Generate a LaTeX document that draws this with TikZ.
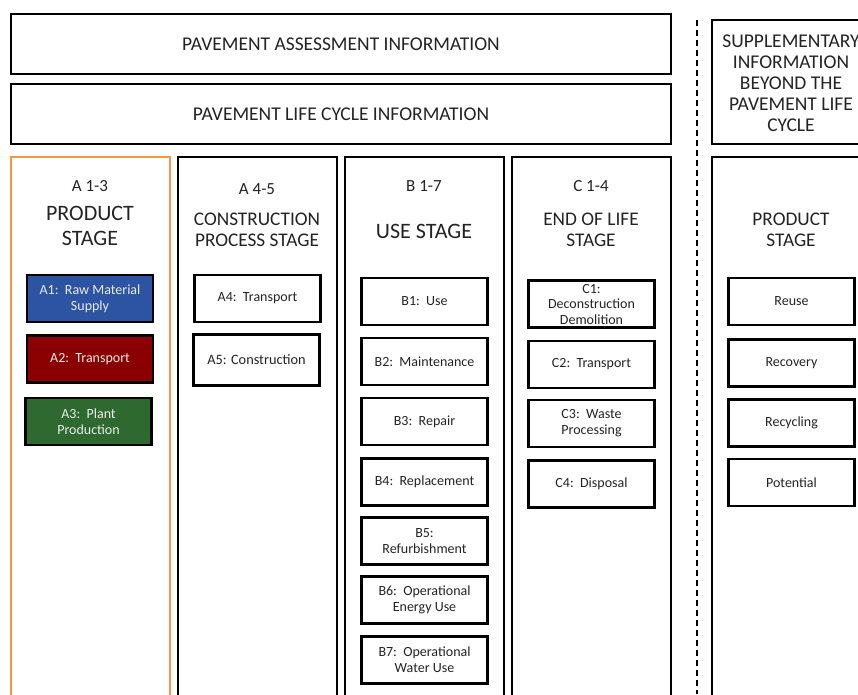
\documentclass[tikz,border=0pt]{standalone}
\usepackage{fontspec}
\setmainfont{Carlito}
\definecolor{ink}{RGB}{35,35,35}
\definecolor{stageorange}{RGB}{247,150,70}
\definecolor{fillblue}{RGB}{44,84,162}
\definecolor{fillred}{RGB}{139,0,0}
\definecolor{fillgreen}{RGB}{46,106,48}
\begin{document}
\begin{tikzpicture}[x=1pt,y=-1pt,
  every node/.style={text=ink, align=center, inner sep=0pt, outer sep=0pt},
  band/.style={draw=black, line width=2pt, minimum width=660pt, minimum height=60pt,
    font=\fontsize{19.5}{21}\selectfont},
  column/.style={draw=black, line width=2pt, minimum width=159pt, minimum height=560pt, anchor=north},
  code/.style={font=\fontsize{17}{19}\selectfont},
  title/.style={font=\fontsize{19.3}{21}\selectfont},
  bigtitle/.style={font=\fontsize{22}{25}\selectfont},
  item/.style={draw=black, line width=2.3pt, minimum width=126pt, minimum height=47pt,
    font=\fontsize{14}{16}\selectfont},
  coloured/.style={item, text=white!92!black},
]
\useasboundingbox (0,0) rectangle (858,694);
\clip (0,0) rectangle (858,694);

% information bands across the top
\node[band] (assess) at (341,44) {PAVEMENT ASSESSMENT INFORMATION};
\node[band] (lci) at (341,114) {PAVEMENT LIFE CYCLE INFORMATION};
\node[draw=black, line width=2pt, minimum width=170pt, minimum height=124pt, anchor=north west] (supp) at (712,20) {};
\node[font=\fontsize{19.5}{21}\selectfont] (supptext) at (791,83)
  {SUPPLEMENTARY\\INFORMATION\\BEYOND THE\\PAVEMENT LIFE\\CYCLE};

% separator between life cycle and supplementary information
\coordinate (sepTop) at (697,20);
\coordinate (sepBot) at (697,694);
\draw[line width=2pt, dash pattern=on 6pt off 4pt] (sepTop) -- (sepBot);

% stage columns
\node[column, draw=stageorange] (colA) at (90.5,157) {};
\node[column] (colAc) at (257.5,157) {};
\node[column] (colB) at (424.5,157) {};
\node[column] (colC) at (591.5,157) {};
\node[column, minimum width=170pt] (colD) at (797,157) {};

% column headings
\node[code] (hA) at (90,186) {A 1-3};
\node[bigtitle] (tA) at (90,226) {PRODUCT\\STAGE};
\node[code] (hAc) at (257,189) {A 4-5};
\node[title] (tAc) at (257,229.5) {CONSTRUCTION\\PROCESS STAGE};
\node[code] (hB) at (424,186) {B 1-7};
\node[bigtitle] (tB) at (424,231) {USE STAGE};
\node[code] (hC) at (591,186) {C 1-4};
\node[title] (tC) at (591,229.5) {END OF LIFE\\STAGE};
\node[title] (tD) at (791,229.5) {PRODUCT\\STAGE};

% product stage modules
\node[coloured, fill=fillblue] (a1) at (90,298.5) {A1:\ \ Raw Material\\Supply};
\node[coloured, fill=fillred] (a2) at (90,359) {A2:\ \ Transport};
\node[coloured, fill=fillgreen] (a3) at (88.5,421.5) {A3:\ \ Plant\\Production};

% construction process modules
\node[item] (a4) at (257.5,298.5) {A4:\ \ Transport};
\node[item, line width=2.8pt, minimum height=51pt, font=\fontsize{14.3}{16}\selectfont] (a5) at (256.5,360) {A5: Construction};

% use stage modules
\node[item] (b1) at (424.5,301.5) {B1:\ \ Use};
\node[item] (b2) at (424.5,361.5) {B2:\ \ Maintenance};
\node[item] (b3) at (424.5,421.5) {B3:\ \ Repair};
\node[item] (b4) at (424.5,482) {B4:\ \ Replacement};
\node[item] (b5) at (424.5,541) {B5:\\Refurbishment};
\node[item] (b6) at (424.5,600) {B6:\ \ Operational\\Energy Use};
\node[item] (b7) at (424.5,660) {B7:\ \ Operational\\Water Use};

% end of life modules
\node[item, font=\fontsize{14}{15.5}\selectfont] (c1) at (591.5,304) {C1:\\Deconstruction\\Demolition};
\node[item] (c2) at (591.5,364.5) {C2:\ \ Transport};
\node[item] (c3) at (591.5,423.5) {C3:\ \ Waste\\Processing};
\node[item] (c4) at (591.5,484) {C4:\ \ Disposal};

% beyond the life cycle
\node[item] (d1) at (791.5,301.5) {Reuse};
\node[item] (d2) at (791.5,363) {Recovery};
\node[item] (d3) at (791.5,423) {Recycling};
\node[item] (d4) at (791.5,482.5) {Potential};
\end{tikzpicture}
\end{document}
